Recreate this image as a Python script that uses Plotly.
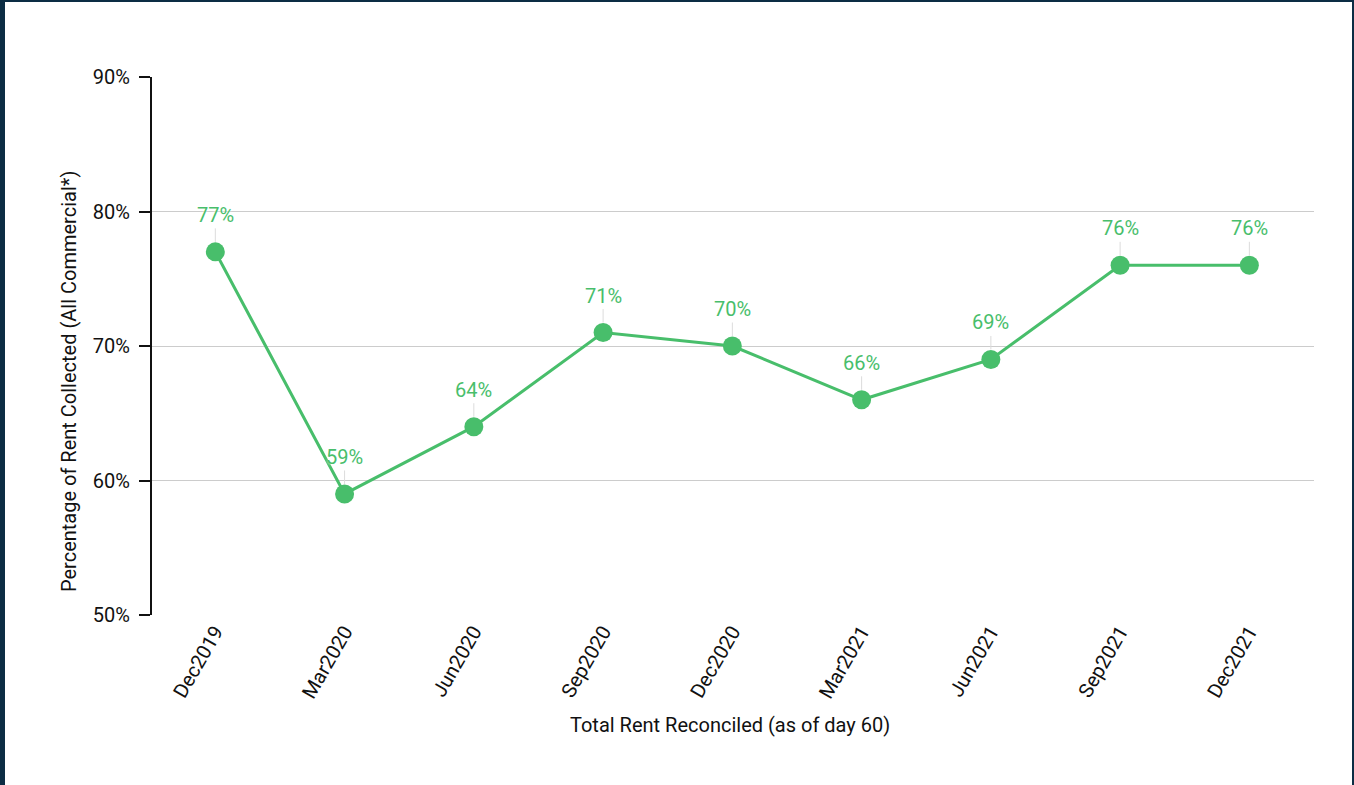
import plotly.graph_objects as go

# Quarterly rent collection series
quarters = ["Dec2019", "Mar2020", "Jun2020", "Sep2020", "Dec2020",
            "Mar2021", "Jun2021", "Sep2021", "Dec2021"]
collected_pct = [77, 59, 64, 71, 70, 66, 69, 76, 76]
y_ticks = [50, 60, 70, 80, 90]
y_tick_text = ["50%", "60%", "70%", "80%", "90%"]

GREEN = "#48be6b"
NAVY = "#0c2d44"
FONT = "Roboto, Inter, sans-serif"

W, H = 1354, 785
ML, MR, MT, MB = 152, 40, 77, 170
PW, PH = W - ML - MR, H - MT - MB


def px_x(p):
    return (p - ML) / PW


def px_y(p):
    return (H - MB - p) / PH


fig = go.Figure()
fig.add_trace(go.Scatter(
    x=quarters, y=collected_pct, mode="lines+markers",
    line=dict(color=GREEN, width=3),
    marker=dict(color=GREEN, size=19),
    hoverinfo="skip", showlegend=False,
))

# Value labels with a thin leader line down to each point
for q, v in zip(quarters, collected_pct):
    fig.add_annotation(
        x=q, y=v, text=f"{v}%", showarrow=True,
        ax=0, ay=-37, arrowhead=0, arrowwidth=1, arrowcolor="#dcdcdc",
        standoff=10,
        font=dict(family=FONT, size=20, color=GREEN,
                  shadow="0px 0px 3px white"),
    )

# Axis titles
fig.add_annotation(
    xref="paper", yref="paper", x=px_x(55), y=px_y(382),
    text="Percentage of Rent Collected (All Commercial*)", textangle=-90,
    showarrow=False, font=dict(family=FONT, size=20, color="#111111"),
)
fig.add_annotation(
    xref="paper", yref="paper", x=px_x(730), y=px_y(739),
    text="Total Rent Reconciled (as of day 60)",
    showarrow=False, font=dict(family=FONT, size=20, color="#111111"),
)

# White page panel inside the navy frame
fig.add_shape(
    type="rect", xref="paper", yref="paper", layer="below",
    x0=px_x(5), x1=px_x(1352), y0=px_y(790), y1=px_y(2),
    fillcolor="white", line=dict(width=0),
)

fig.update_layout(
    width=W, height=H,
    margin=dict(l=ML, r=MR, t=MT, b=MB),
    paper_bgcolor=NAVY, plot_bgcolor="white",
    font=dict(family=FONT, size=20, color="#111111"),
    xaxis=dict(
        type="category", range=[-0.49, 8.5],
        showgrid=False, showline=False, zeroline=False,
        ticks="", tickangle=-60,
        tickfont=dict(family=FONT, size=20, color="#111111"),
    ),
    yaxis=dict(
        range=[50, 90], tickvals=y_ticks, ticktext=y_tick_text,
        showgrid=True, gridcolor="#cccccc", gridwidth=1.3,
        showline=True, linecolor="#111111", linewidth=2,
        ticks="outside", ticklen=11, tickwidth=2, tickcolor="#111111",
        ticklabelstandoff=5, zeroline=False,
        tickfont=dict(family=FONT, size=20, color="#111111"),
    ),
)

fig.write_html("out.html")
